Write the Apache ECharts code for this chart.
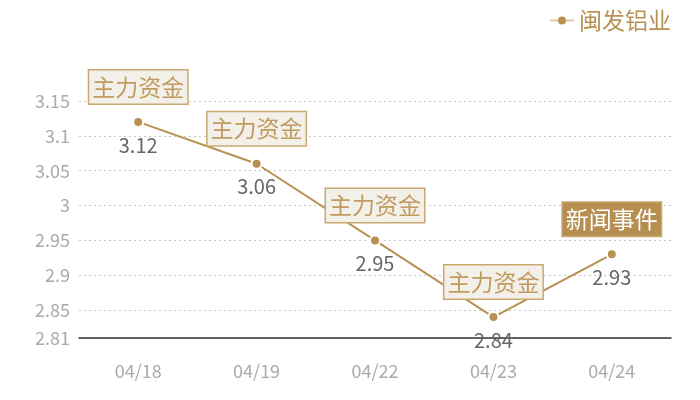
<!DOCTYPE html>
<html>
<head>
<meta charset="utf-8">
<script src="https://cdn.jsdelivr.net/npm/echarts@6/dist/echarts.min.js"></script>
<style>
  html, body { margin: 0; padding: 0; background: #fff; }
  #main { width: 700px; height: 400px; }
</style>
</head>
<body>
<div id="main"></div>
<script>
// 数据
var dates = ['04/18', '04/19', '04/22', '04/23', '04/24'];
var prices = [3.12, 3.06, 2.95, 2.84, 2.93];
var events = ['主力资金', '主力资金', '主力资金', '主力资金', '新闻事件'];
var seriesName = '闽发铝业';

var gold = '#b89152';
var font = '"Noto Sans CJK SC", "Noto Sans", sans-serif';

// 事件标注
var marks = [];
dates.map(function (d, i) {
    var isNews = events[i] === '新闻事件';
    marks.push({
        coord: [d, prices[i]],
        value: events[i],
        label: {
            show: true,
            position: 'top',
            distance: 18,
            formatter: '{c}',
            fontFamily: font,
            fontSize: 23,
            lineHeight: 25,
            color: isNews ? '#fff' : '#c09a5e',
            backgroundColor: isNews ? '#b58e50' : '#f3efe9',
            borderColor: isNews ? '#c8a870' : '#c8a870',
            borderWidth: 1.5,
            padding: [4, 3, 4, 3]
        }
    });
});

var chart = echarts.init(document.getElementById('main'));
chart.setOption({
    animation: false,
    textStyle: { fontFamily: font },
    legend: {
        right: 24,
        top: 4,
        data: [seriesName],
        itemWidth: 24,
        itemHeight: 10,
        itemGap: 6,
        itemStyle: { borderWidth: 0, color: gold },
        lineStyle: { color: '#dcc8a4', width: 2 },
        textStyle: { color: gold, fontSize: 23, fontFamily: font }
    },
    grid: { left: 79, right: 29, top: 101, bottom: 62 },
    xAxis: {
        type: 'category',
        data: dates,
        axisLine: { lineStyle: { color: '#333', width: 1.5 } },
        axisTick: { show: false },
        axisLabel: { color: '#aaa', fontSize: 18, margin: 24, fontFamily: font }
    },
    yAxis: {
        type: 'value',
        min: 2.81,
        max: 3.15,
        axisLine: { show: false },
        axisTick: { show: false },
        axisLabel: { color: '#aaa', fontSize: 18, margin: 9, fontFamily: font },
        splitLine: { lineStyle: { color: '#c8c8c8', type: [2, 3] } }
    },
    series: [{
        name: seriesName,
        type: 'line',
        data: prices,
        symbol: 'circle',
        symbolSize: 10,
        itemStyle: { color: gold, borderColor: '#fff', borderWidth: 2 },
        lineStyle: { color: gold, width: 2 },
        label: {
            show: true,
            position: 'bottom',
            distance: 7,
            color: '#666',
            fontSize: 20,
            fontFamily: font
        },
        markPoint: {
            symbol: 'circle',
            symbolSize: 1,
            itemStyle: { color: 'rgba(0,0,0,0)' },
            data: marks
        }
    }]
});
</script>
</body>
</html>
